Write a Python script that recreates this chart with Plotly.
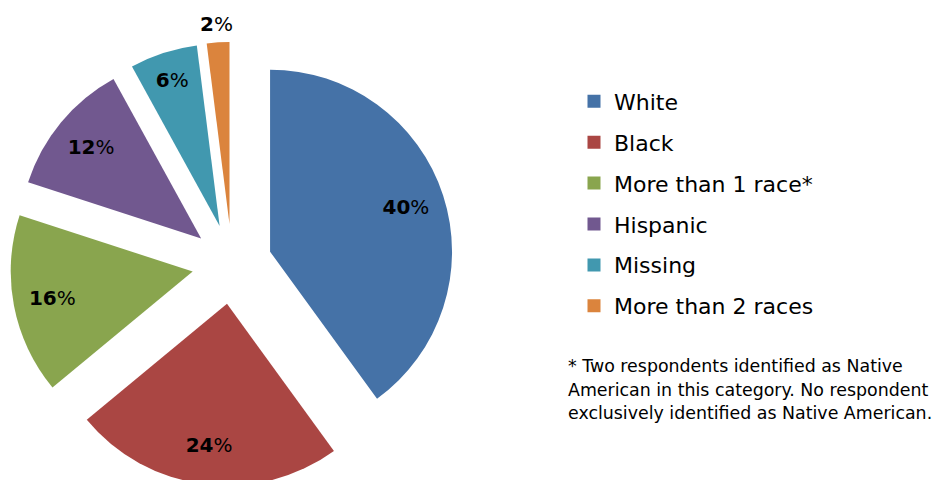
import plotly.graph_objects as go

categories = ["White", "Black", "More than 1 race*", "Hispanic", "Missing", "More than 2 races"]
values = [40, 24, 16, 12, 6, 2]
colors = ["#4572A7", "#AA4643", "#89A54E", "#71588F", "#4198AF", "#DB843D"]
footnote_lines = [
    "* Two respondents identified as Native",
    "American in this category. No respondent",
    "exclusively identified as Native American.",
]

W, H = 941, 480
# figure-pixel layout (page body adds an 8px offset)
cx, cy, half = 224, 256, 222
pulls = [0.22] * len(values)


def dom(dx=0, dy=0):
    return dict(x=[(cx + dx - half) / W, (cx + dx + half) / W],
                y=[1 - (cy + dy + half) / H, 1 - (cy + dy - half) / H])


label_tpl = "<b>%{value}</b>%"
inside_tpl = [label_tpl] * (len(values) - 1) + [""]
outside_tpl = [""] * (len(values) - 1) + [label_tpl]
lbl_font = dict(family="DejaVu Sans", size=20, color="black")
clear = ["rgba(0,0,0,0)"] * len(values)

fig = go.Figure()

# visible exploded pie
fig.add_trace(go.Pie(
    labels=categories, values=values,
    marker=dict(colors=colors, line=dict(width=0)),
    sort=False, direction="clockwise", rotation=0,
    pull=pulls, textinfo="none", showlegend=False,
    hoverinfo="label+percent", domain=dom(),
))

# transparent overlay carrying the inside labels (hole pushes labels outward)
fig.add_trace(go.Pie(
    labels=categories, values=values,
    marker=dict(colors=clear, line=dict(width=0)),
    sort=False, direction="clockwise", rotation=0, hole=0.57,
    pull=pulls, texttemplate=inside_tpl,
    textposition="inside", insidetextorientation="horizontal",
    textfont=lbl_font, insidetextfont=lbl_font,
    showlegend=False, hoverinfo="skip", domain=dom(),
))

# transparent overlay carrying the outside label of the smallest slice
fig.add_trace(go.Pie(
    labels=categories, values=values,
    marker=dict(colors=clear, line=dict(width=0)),
    sort=False, direction="clockwise", rotation=0,
    pull=pulls, texttemplate=outside_tpl,
    textposition="outside",
    textfont=lbl_font, outsidetextfont=lbl_font,
    showlegend=False, hoverinfo="skip", domain=dom(21, -6),
))

# legend entries (one group each for spacing)
for cat, col in zip(categories, colors):
    fig.add_trace(go.Scatter(
        x=[None], y=[None], mode="markers", name=cat,
        marker=dict(symbol="square", size=13, color=col),
        legendgroup=cat, showlegend=True, hoverinfo="skip",
    ))

annotations = []
for i, line in enumerate(footnote_lines):
    annotations.append(dict(
        text=line, xref="paper", yref="paper",
        x=558 / W, xanchor="left", y=1 - (358 + 23.5 * i) / H, yanchor="middle",
        align="left", showarrow=False,
        font=dict(family="DejaVu Sans", size=17.4, color="black"),
    ))

fig.update_layout(
    width=W, height=H,
    margin=dict(l=0, r=0, t=0, b=0, autoexpand=False),
    paper_bgcolor="white", plot_bgcolor="white",
    xaxis=dict(visible=False), yaxis=dict(visible=False),
    legend=dict(
        x=566 / W, xanchor="left",
        y=1 - 72.5 / H, yanchor="top",
        font=dict(family="DejaVu Sans", size=22, color="black"),
        traceorder="grouped", tracegroupgap=9.3,
        bgcolor="rgba(0,0,0,0)",
    ),
    annotations=annotations,
)

fig.write_html("out.html")
